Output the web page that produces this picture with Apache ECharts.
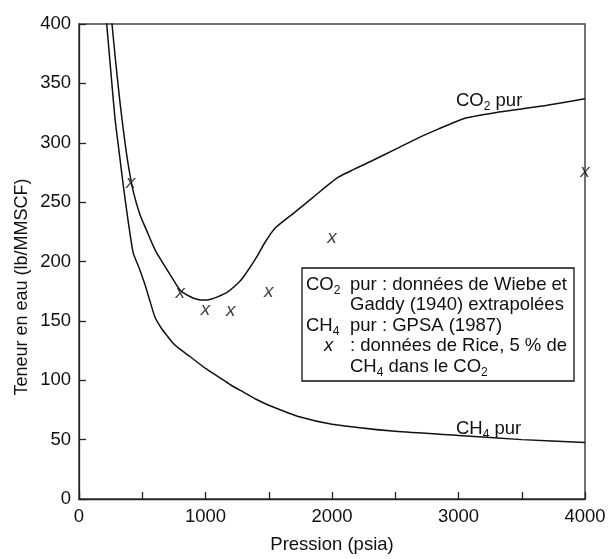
<!DOCTYPE html>
<html><head><meta charset="utf-8">
<script src="https://cdn.jsdelivr.net/npm/echarts@6/dist/echarts.min.js"></script>
<style>html,body{margin:0;padding:0;background:#fff}#c{width:609px;height:559px}</style>
</head><body><div id="c"></div>
<script>
// Pure CO2 water content (Wiebe & Gaddy, extrapolated)
const co2Pressure = [240, 258, 290, 324, 360, 390, 429, 480, 535, 600, 667, 720, 798, 877, 940, 990, 1050, 1090, 1170, 1250, 1300, 1400, 1470, 1549, 1700, 1850, 2050, 2300, 2511, 2700, 2850, 2940, 3065, 3300, 3500, 3700, 4000];
const co2Water    = [420, 403, 368, 334, 303, 281, 259, 240, 226, 210, 198, 189, 176, 170.5, 168, 167.5, 168.5, 170, 174, 181, 187, 203, 216, 228, 241, 254, 271, 284, 295, 305, 312, 316, 321, 325.5, 328.5, 331.5, 337];
// Pure CH4 water content (GPSA 1987)
const ch4Pressure = [205, 219, 250, 285, 320, 350, 390, 429, 470, 520, 560, 601, 650, 700, 746, 800, 877, 1000, 1100, 1200, 1300, 1400, 1500, 1750, 2000, 2500, 3000, 3500, 4000];
const ch4Water    = [417, 400, 362, 320, 290, 264, 233, 207, 196, 181, 167, 153, 144, 137, 131, 126, 120, 110, 103, 96, 90, 84, 79, 69, 63, 57, 53.5, 50, 47.5];
// Rice data, 5 % CH4 in CO2
const ricePressure = [410, 800, 1000, 1200, 1500, 2000, 4000];
const riceWater    = [265, 172, 158, 157, 173, 218, 274];
const xTickValues = [0, 1000, 2000, 3000, 4000];
const yTickValues = [0, 50, 100, 150, 200, 250, 300, 350, 400];

const FONT = "'Liberation Sans', Arial, Helvetica, sans-serif";
const FS = 18.5, SUBFS = 12, COLOR = '#111';
const zip = (a, b) => a.map((v, i) => [v, b[i]]);
const mctx = document.createElement('canvas').getContext('2d');
function measure(t, fs, italic) {
  mctx.font = (italic ? 'italic ' : '') + fs + 'px ' + FONT;
  return mctx.measureText(t).width;
}
// parts: [text, isSubscript, isItalic]
function runText(x, yMid, parts) {
  const els = []; let cx = x;
  parts.forEach(p => {
    const t = p[0], s = p[1], it = p[2];
    const fs = s ? SUBFS : FS;
    els.push({type: 'text', x: cx, y: s ? yMid + 6 : yMid, silent: true,
      style: {text: t, fontSize: fs, fontFamily: FONT, fontStyle: it ? 'italic' : 'normal',
        fill: COLOR, align: 'left', verticalAlign: 'middle'}});
    cx += measure(t, fs, it);
  });
  return els;
}
const chart = echarts.init(document.getElementById('c'), null, {renderer: 'canvas'});
const graphics = [].concat(
  runText(456, 101, [['CO'], ['2', true], [' pur']]),
  runText(456, 429, [['CH'], ['4', true], [' pur']]),
  [{type: 'rect', x: 302, y: 268, silent: true, shape: {width: 272, height: 113},
    style: {fill: '#fff', stroke: COLOR, lineWidth: 1.3}}],
  runText(306, 284.7, [['CO'], ['2', true]]),
  runText(350, 284.7, [['pur : données de Wiebe et']]),
  runText(350, 305.2, [['Gaddy (1940) extrapolées']]),
  runText(306, 325.7, [['CH'], ['4', true]]),
  runText(350, 325.7, [['pur : GPSA (1987)']]),
  runText(324, 346.2, [['x', false, true]]),
  runText(350, 346.2, [[': données de Rice, 5 % de']]),
  runText(350, 366.7, [['CH'], ['4', true], [' dans le CO'], ['2', true]]),
  [{type: 'text', x: 22, y: 287, rotation: Math.PI / 2, silent: true,
    style: {text: 'Teneur en eau (lb/MMSCF)', fontSize: 18, fontFamily: FONT, fill: COLOR,
      align: 'center', verticalAlign: 'middle'}}]
);
const option = {
  animation: false,
  backgroundColor: '#fff',
  grid: {left: 79, right: 24, top: 24, bottom: 55, show: true, borderColor: '#444', borderWidth: 1.5},
  xAxis: {
    type: 'value', min: 0, max: 4000, interval: 500,
    name: 'Pression (psia)', nameLocation: 'middle', nameGap: 36,
    nameTextStyle: {fontSize: 18.5, fontFamily: FONT, color: COLOR},
    axisLine: {lineStyle: {color: '#222', width: 1.3}},
    axisTick: {inside: true, length: 7, lineStyle: {color: '#222', width: 1.3}},
    axisLabel: {fontSize: FS, fontFamily: FONT, color: COLOR, margin: 8,
      formatter: v => xTickValues.indexOf(v) >= 0 ? String(v) : ''},
    splitLine: {show: false}
  },
  yAxis: {
    type: 'value', min: 0, max: 400, interval: 50,
    axisLine: {show: true, lineStyle: {color: '#222', width: 1.3}},
    axisTick: {show: true, inside: true, length: 7, lineStyle: {color: '#222', width: 1.3}},
    axisLabel: {fontSize: FS, fontFamily: FONT, color: COLOR, margin: 8,
      formatter: v => yTickValues.indexOf(v) >= 0 ? String(v) : ''},
    splitLine: {show: false}
  },
  series: [
    {type: 'line', data: zip(co2Pressure, co2Water), showSymbol: false, smooth: 0.2, clip: true,
     lineStyle: {color: COLOR, width: 1.5}, silent: true},
    {type: 'line', data: zip(ch4Pressure, ch4Water), showSymbol: false, smooth: 0.2, clip: true,
     lineStyle: {color: COLOR, width: 1.5}, silent: true},
    {type: 'scatter', data: zip(ricePressure, riceWater), symbolSize: 1, clip: false, silent: true,
     itemStyle: {color: 'rgba(0,0,0,0)'},
     label: {show: true, position: 'inside', formatter: 'x', fontSize: 19, fontStyle: 'italic',
       fontFamily: FONT, color: COLOR, offset: [0, -2]}}
  ],
  graphic: graphics
};
chart.setOption(option);
</script></body></html>
